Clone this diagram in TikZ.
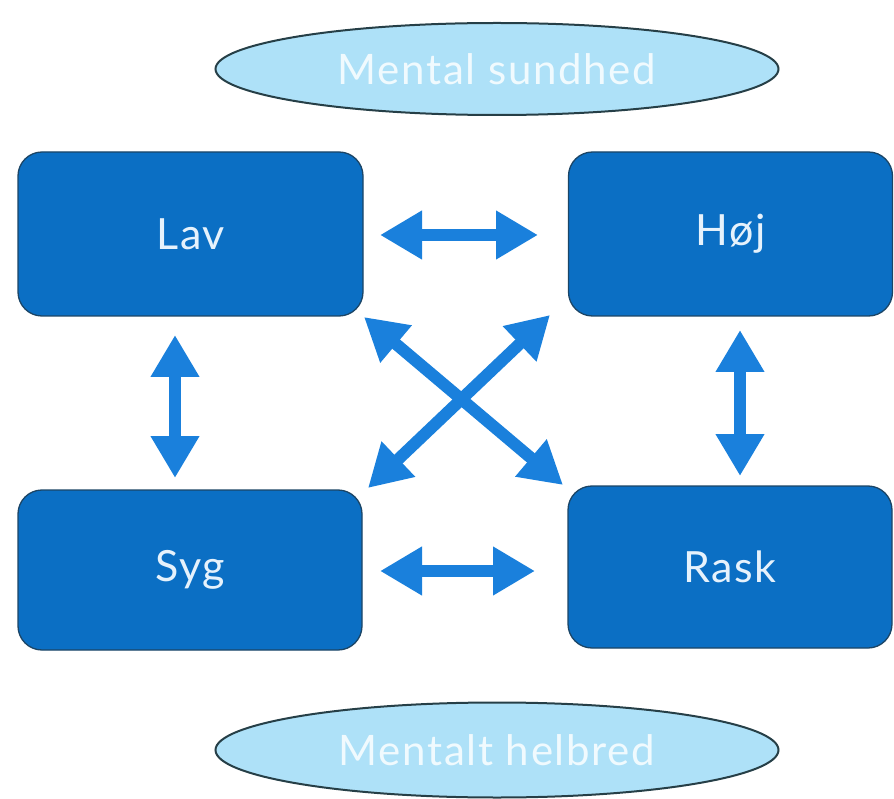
\documentclass[tikz,border=0pt]{standalone}
\usepackage{fontspec}
\setmainfont{Lato}
\newfontfamily\spacedfont[LetterSpace=4]{Lato}
\usetikzlibrary{arrows.meta,shapes.geometric}
\definecolor{boxblue}{HTML}{0B6FC4}
\definecolor{boxedge}{HTML}{1B4566}
\definecolor{arrowblue}{HTML}{1A80DC}
\definecolor{ellfill}{HTML}{AEE1F8}
\definecolor{elledge}{HTML}{263F47}
\definecolor{elltext}{HTML}{F0FAFE}
\definecolor{boxtext}{HTML}{E6F2FC}
\tikzset{
  stateboxstyle/.style={draw=boxedge, fill=boxblue, line width=1.3pt, rounded corners=24pt,
    text=boxtext, font=\spacedfont\fontsize{43}{50}\selectfont, inner sep=0pt},
  ellnode/.style={ellipse, draw=elledge, fill=ellfill, line width=2pt, text=elltext,
    font=\spacedfont\fontsize{42}{48}\selectfont, inner sep=0pt},
  bigarrow/.style={draw=arrowblue, line width=12pt,
    {Triangle[width=46pt,length=42pt]}-{Triangle[width=46pt,length=42pt]}}
}
\begin{document}
\begin{tikzpicture}[x=1pt,y=-1pt]
\useasboundingbox (0,0) rectangle (894,799);
\node[ellnode, minimum width=563pt, minimum height=92pt] (top) at (497,69) {Mental sundhed};
\node[ellnode, minimum width=563pt, minimum height=95pt] (bot) at (497,750) {Mentalt helbred};
\node[stateboxstyle, minimum width=345pt, minimum height=164pt] (lav) at (190.5,234) {Lav};
\node[stateboxstyle, minimum width=324pt, minimum height=164pt] (hoj) at (730.5,234) {Høj};
\node[stateboxstyle, minimum width=344pt, minimum height=160pt] (syg) at (190,570) {Syg};
\node[stateboxstyle, minimum width=324pt, minimum height=162pt] (rask) at (730,567) {Rask};
% arrow end points
\coordinate (h1a) at (380,235); \coordinate (h1b) at (538,235);
\coordinate (h2a) at (380,571); \coordinate (h2b) at (535,571);
\coordinate (v1a) at (175,335); \coordinate (v1b) at (175,478);
\coordinate (v2a) at (740,330); \coordinate (v2b) at (740,476);
\coordinate (d1a) at (364,317); \coordinate (d1b) at (563,485);
\coordinate (d2a) at (550,315); \coordinate (d2b) at (368,488);
\draw[bigarrow] (h1a) -- (h1b);
\draw[bigarrow] (h2a) -- (h2b);
\draw[bigarrow] (v1a) -- (v1b);
\draw[bigarrow] (v2a) -- (v2b);
\draw[bigarrow] (d1a) -- (d1b);
\draw[bigarrow] (d2a) -- (d2b);
\end{tikzpicture}
\end{document}
